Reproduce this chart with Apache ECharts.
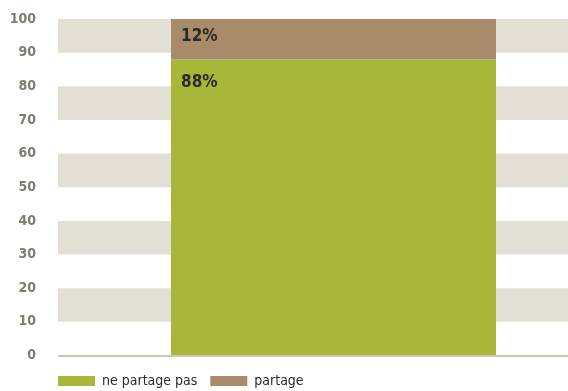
<!DOCTYPE html>
<html>
<head>
<meta charset="utf-8">
<script src="https://cdn.jsdelivr.net/npm/echarts@6/dist/echarts.min.js"></script>
<style>
  html, body { margin: 0; padding: 0; background: #ffffff; }
  #chart { width: 568px; height: 391px; }
</style>
</head>
<body>
<div id="chart"></div>
<script>
// Share of respondents, single stacked column
const categories = ['total'];
const nePartagePas = [88];
const partage = [12];
const yTicks = [0, 10, 20, 30, 40, 50, 60, 70, 80, 90, 100];

const FONT = '"DejaVu Sans Condensed", "Open Sans", sans-serif';

const chart = echarts.init(document.getElementById('chart'), null, { renderer: 'canvas' });

const labelStyle = {
  show: true,
  formatter: '{c}%',
  color: '#2b2a26',
  fontFamily: FONT,
  fontSize: 17,
  fontWeight: 'bold'
};

chart.setOption({
  animation: false,
  backgroundColor: '#ffffff',
  // plot runs past the right edge of the canvas
  grid: {
    left: 58, right: -41, top: 19, bottom: 35.5,
    containLabel: false,
    outerBoundsMode: 'none'
  },
  legend: {
    left: 53,
    top: 369,
    itemWidth: 37,
    itemHeight: 10,
    itemGap: 13,
    icon: 'rect',
    textStyle: { color: '#2b2a26', fontFamily: FONT, fontSize: 14, padding: [0, 0, 0, 2] },
    data: ['ne partage pas', 'partage']
  },
  xAxis: {
    type: 'category',
    data: categories,
    axisTick: { show: false },
    axisLabel: { show: false },
    axisLine: { show: false }
  },
  yAxis: {
    type: 'value',
    min: yTicks[0],
    max: yTicks[yTicks.length - 1],
    interval: 10,
    axisLine: { show: false },
    axisTick: { show: false },
    splitLine: { show: false },
    splitArea: { show: true, areaStyle: { color: ['rgba(255,255,255,0)', '#e2e0d5'] } },
    axisLabel: {
      color: '#7d7d72',
      fontFamily: FONT,
      fontSize: 14,
      fontWeight: 'bold',
      margin: 22
    }
  },
  series: [
    {
      name: 'ne partage pas',
      type: 'bar',
      stack: 'total',
      data: nePartagePas,
      barWidth: 325,
      itemStyle: { color: '#a8b63a' },
      label: Object.assign({}, labelStyle, { position: [10, 15] }),
      z: 3
    },
    {
      name: 'partage',
      type: 'bar',
      stack: 'total',
      data: partage,
      barWidth: 325,
      itemStyle: { color: '#a88b6a' },
      label: Object.assign({}, labelStyle, { position: [10, 9] }),
      z: 3
    },
    {
      // baseline rule along the zero line
      type: 'line',
      data: [],
      markLine: {
        silent: true,
        symbol: 'none',
        label: { show: false },
        lineStyle: { color: '#cac8b3', width: 2, type: 'solid' },
        data: [{ yAxis: 0 }]
      },
      z: 1
    }
  ]
});
</script>
</body>
</html>
